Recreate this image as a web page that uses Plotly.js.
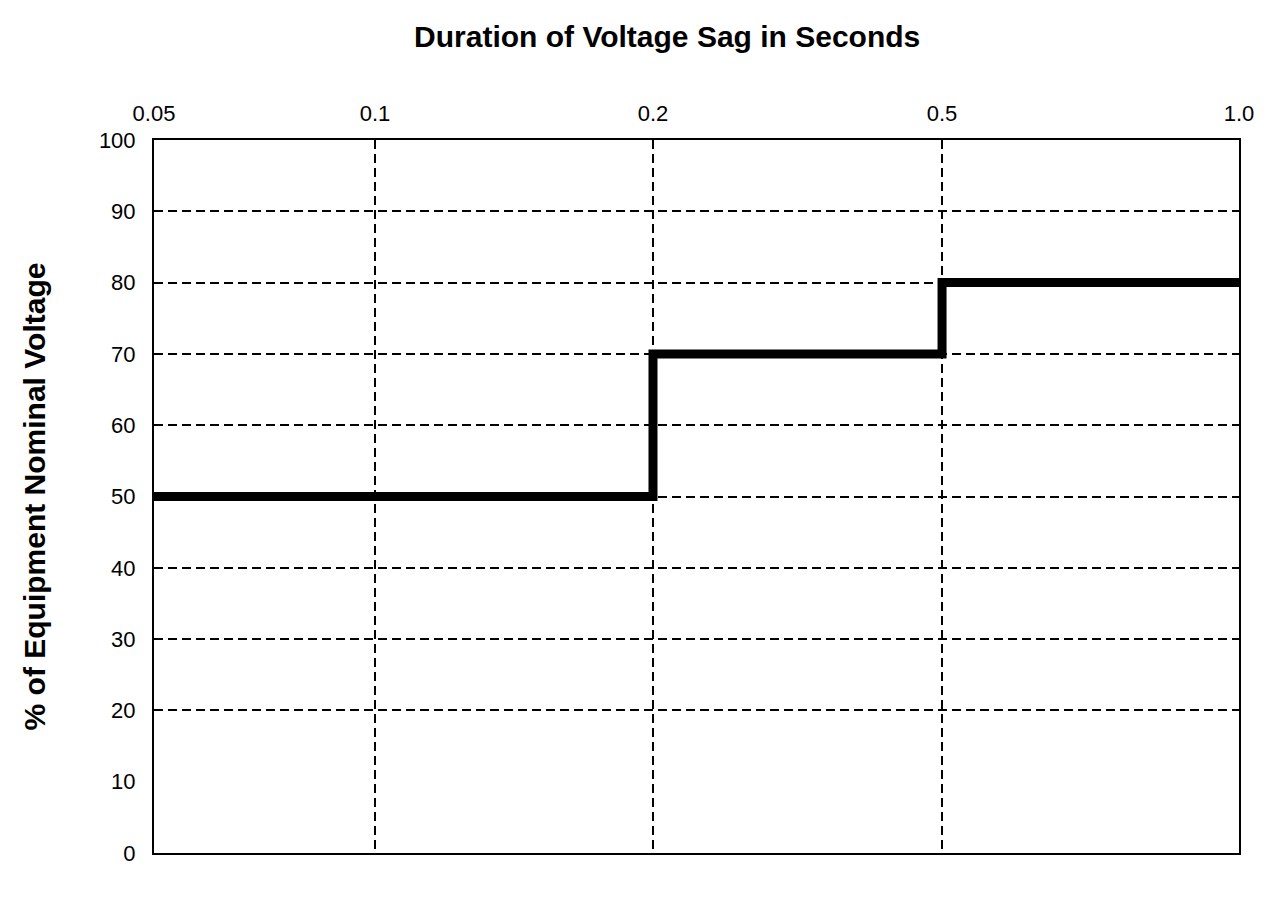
<!DOCTYPE html>
<html>
<head>
<meta charset="utf-8">
<script src="https://cdn.plot.ly/plotly-3.0.1.min.js"></script>
<style>
  html, body { margin: 0; padding: 0; background: #fff; }
  #chart { width: 1283px; height: 900px; }
</style>
</head>
<body>
<div id="chart"></div>
<script>
// ticks of the duration axis and their labels
const durationTicks = [0.05, 0.1, 0.2, 0.5, 1.0];
const durationLabels = ['0.05', '0.1', '0.2', '0.5', '1.0'];

// voltage axis
const voltageTicks = [0, 10, 20, 30, 40, 50, 60, 70, 80, 90, 100];
const voltageGrid = [20, 30, 40, 50, 60, 70, 80, 90];

// sag tolerance curve (step, held until next duration)
const sagDurations = [0.05, 0.2, 0.5, 1.0];
const sagVoltages = [50, 70, 80, 80];

// the original axis is drawn with uneven spacing between ticks,
// so each tick gets its own slot along the axis (0..1)
const tickSlots = [0, 0.2037, 0.4599, 0.7263, 1];

function toSlot(d) {
    for (let i = 0; i < durationTicks.length - 1; i++) {
        let a = durationTicks[i], b = durationTicks[i + 1];
        if (d <= b) {
            let t = Math.log(d / a) / Math.log(b / a);
            return tickSlots[i] + t * (tickSlots[i + 1] - tickSlots[i]);
        }
    }
    return 1;
}

const font = 'Liberation Sans, Arial, sans-serif';

let traces = [{
    // empty trace so the grid-only axis gets drawn
    x: [],
    y: [],
    yaxis: 'y2',
    mode: 'lines',
    type: 'scatter',
    hoverinfo: 'none',
    showlegend: false
}, {
    x: sagDurations.map(toSlot),
    y: sagVoltages,
    mode: 'lines',
    type: 'scatter',
    line: { shape: 'hv', color: '#000', width: 9 },
    hoverinfo: 'none',
    showlegend: false
}];

let layout = {
    width: 1283,
    height: 900,
    margin: { l: 154, r: 44, t: 140, b: 47 },
    paper_bgcolor: '#fff',
    plot_bgcolor: '#fff',
    font: { family: font, size: 22, color: '#000' },
    showlegend: false,
    title: {
        text: 'Duration of Voltage Sag in Seconds',
        font: { family: font, size: 30, weight: 'bold', color: '#000' },
        xref: 'paper',
        x: 0.473,
        xanchor: 'center',
        yref: 'container',
        y: 0.959,
        yanchor: 'middle'
    },
    xaxis: {
        side: 'top',
        range: [0, 1],
        tickmode: 'array',
        tickvals: tickSlots,
        ticktext: durationLabels,
        ticks: '',
        ticklabelstandoff: 8,
        showline: true,
        mirror: true,
        linecolor: '#000',
        linewidth: 2,
        showgrid: true,
        gridcolor: '#000',
        gridwidth: 2,
        griddash: '9px,5px',
        zeroline: false,
        fixedrange: true
    },
    yaxis: {
        range: [0, 100],
        tickmode: 'array',
        tickvals: voltageTicks,
        ticks: '',
        ticklabelstandoff: 12,
        showline: true,
        mirror: true,
        linecolor: '#000',
        linewidth: 2,
        showgrid: false,
        zeroline: false,
        fixedrange: true,
        title: {
            text: '% of Equipment Nominal Voltage',
            font: { family: font, size: 30, weight: 'bold', color: '#000' },
            standoff: 44
        }
    },
    yaxis2: {
        overlaying: 'y',
        range: [0, 100],
        tickmode: 'array',
        tickvals: voltageGrid,
        showticklabels: false,
        ticks: '',
        showline: false,
        showgrid: true,
        gridcolor: '#000',
        gridwidth: 2,
        griddash: '9px,5px',
        zeroline: false,
        fixedrange: true
    }
};

Plotly.newPlot('chart', traces, layout, { displayModeBar: false, staticPlot: true });
</script>
</body>
</html>
